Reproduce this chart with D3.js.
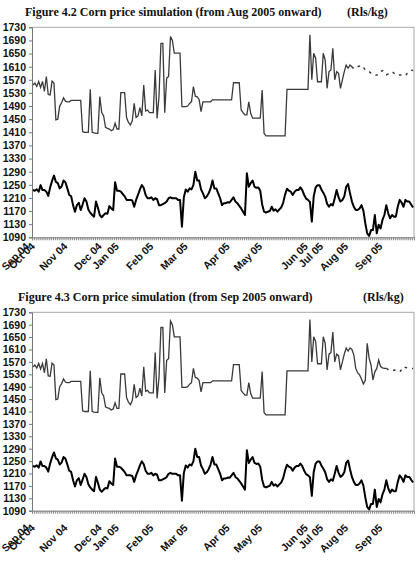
<!DOCTYPE html>
<html><head><meta charset="utf-8">
<script src="https://cdn.jsdelivr.net/npm/d3@7"></script>
<style>
html,body{margin:0;padding:0;background:#fff;}
svg{display:block;}
.ylab text{font-family:"Liberation Sans",Arial,sans-serif;font-weight:bold;font-size:10.5px;fill:#111;}
.mlab{font-family:"Liberation Sans",Arial,sans-serif;font-weight:bold;font-size:10.5px;fill:#111;}
.title{font-family:"Liberation Serif","Times New Roman",serif;font-weight:bold;font-size:12px;fill:#111;}
</style></head>
<body>
<svg id="c" width="419" height="562"></svg>
<script>
// ---- data ----
const monthLabels = ["Sep 04","Oct 04","Nov 04","Dec 04","Jan 05","Feb 05","Mar 05","Apr 05","May 05","Jun 05","Jul 05","Aug 05","Sep 05"];
const monthIndex  = [1, 4, 21, 39, 48, 66, 84, 106, 123, 147, 155, 168, 186];
const yTicks = [1090,1130,1170,1210,1250,1290,1330,1370,1410,1450,1490,1530,1570,1610,1650,1690,1730];
const nDays = 200;

// upper series (actual), index 0..185
const upperActual = [
1554,1560,1550,1565,1547,1565,1535,1580,1525,1524,
1566,1560,1448,1450,1490,1500,1515,1505,1503,1503,
1507,1507,1507,1507,1507,1507,1412,1410,1410,1410,
1541,1410,1408,1407,1407,1519,1470,1460,1425,1422,
1420,1415,1418,1438,1420,1420,1531,1531,1531,1455,
1440,1432,1445,1498,1455,1460,1485,1460,1554,1475,
1478,1470,1470,1470,1600,1452,1520,1681,1681,1470,
1575,1580,1702,1690,1651,1651,1651,1651,1488,1488,
1488,1490,1498,1503,1549,1520,1518,1510,1473,1503,
1503,1503,1503,1503,1509,1509,1509,1509,1509,1509,
1509,1509,1509,1509,1509,1561,1561,1561,1561,1478,
1470,1463,1463,1503,1468,1453,1453,1453,1453,1453,
1539,1407,1399,1399,1399,1399,1399,1399,1399,1399,
1399,1399,1399,1541,1541,1541,1541,1541,1541,1541,
1541,1541,1541,1541,1541,1707,1570,1651,1636,1564,
1564,1564,1651,1630,1544,1595,1600,1666,1570,1595,
1590,1544,1570,1595,1615,1605,1615,1610,1592,1549,
1535,1528,1515,1499,1510,1630,1582,1560,1512,1538,
1549,1576,1555,1551,1549,1549
];
// forecast from Aug 2005 (index 167..199)
const forecastAug = [
1610,1603,1605,1610,1612,1615,1608,1600,1600,1595,
1590,1585,1583,1585,1585,1595,1598,1590,1585,1588,
1592,1595,1590,1585,1583,1585,1585,1583,1582,1590,
1595,1600,1598
];
const forecastAugStart = 167;
// forecast from Sep 2005 (index 185..199)
const forecastSep = [1549,1545,1541,1542,1543,1544,1540,1538,1545,1555,1552,1551,1550,1549,1549];
const forecastSepStart = 185;

// lower series, index 0..199
const lowerSeries = [
1234,1232,1236,1229,1249,1234,1234,1229,1216,1242,
1262,1278,1259,1255,1239,1245,1263,1258,1239,1219,
1215,1188,1168,1188,1195,1173,1190,1209,1199,1175,
1165,1158,1153,1199,1180,1158,1151,1158,1163,1162,
1185,1178,1173,1258,1232,1232,1229,1222,1215,1204,
1204,1204,1202,1183,1204,1219,1236,1249,1240,1219,
1209,1209,1212,1204,1209,1206,1188,1188,1191,1194,
1199,1209,1212,1209,1209,1209,1204,1204,1122,1212,
1236,1229,1239,1236,1249,1290,1263,1263,1236,1224,
1209,1214,1224,1239,1263,1239,1239,1224,1209,1188,
1194,1194,1197,1196,1204,1212,1199,1194,1186,1178,
1168,1158,1285,1244,1255,1263,1244,1241,1242,1232,
1190,1168,1165,1168,1170,1183,1171,1175,1168,1175,
1181,1195,1220,1238,1232,1229,1219,1229,1234,1234,
1242,1234,1219,1208,1204,1198,1138,1215,1242,1249,
1249,1236,1226,1214,1192,1183,1191,1187,1209,1234,
1212,1199,1204,1214,1244,1252,1224,1199,1183,1173,
1173,1178,1188,1171,1133,1102,1094,1112,1112,1158,
1102,1128,1117,1143,1158,1188,1163,1148,1158,1153,
1153,1183,1204,1196,1183,1204,1199,1199,1190,1181
];

// ---- drawing ----
const svg = d3.select("#c");
const charts = [
  {title:"Figure 4.2 Corn price simulation (from Aug 2005 onward)", titleX:25, titleY:16, unitX:347,
   top:27.3, bottom:237.3, actualEnd:forecastAugStart, fc:forecastAug, fcStart:forecastAugStart, labY:247},
  {title:"Figure 4.3 Corn price simulation (from Sep 2005 onward)", titleX:18, titleY:301, unitX:363,
   top:312.3, bottom:510.7, actualEnd:forecastSepStart, fc:forecastSep, fcStart:forecastSepStart, labY:528.5}
];
const left = 32, right = 414;

charts.forEach(c => {
  const g = svg.append("g");
  const x = d3.scaleLinear().domain([0, nDays]).range([left, right]);
  const y = d3.scaleLinear().domain([1090, 1730]).range([c.bottom, c.top]);

  g.append("text").attr("class","title").attr("x",c.titleX).attr("y",c.titleY).text(c.title);
  g.append("text").attr("class","title").attr("x",c.unitX).attr("y",c.titleY).text("(Rls/kg)");

  // frame top & right
  g.append("path").attr("d",`M${left},${c.top}H${right}V${c.bottom}`)
    .attr("fill","none").attr("stroke","#a8a8a8").attr("stroke-width",1);

  // y axis
  const ya = g.append("g").attr("class","ylab").attr("transform",`translate(${left},0)`)
    .call(d3.axisLeft(y).tickValues(yTicks).tickSize(3).tickPadding(3).tickFormat(d3.format("d")));
  ya.select(".domain").attr("stroke","#777");
  ya.selectAll(".tick line").attr("stroke","#777");

  // x axis with category ticks
  const xa = g.append("g").attr("transform",`translate(0,${c.bottom})`)
    .call(d3.axisBottom(x).tickValues(d3.range(0, nDays+1)).tickSize(3).tickFormat(""));
  xa.select(".domain").attr("stroke","#777");
  xa.selectAll(".tick line").attr("stroke","#888");

  // month labels
  monthLabels.forEach((m,k) => {
    const px = x(monthIndex[k] + 0.5) - 5;
    g.append("text").attr("class","mlab")
      .attr("text-anchor","end")
      .attr("transform",`translate(${px},${c.labY}) rotate(-45)`)
      .text(m);
  });

  const line = d3.line().x(d => x(d.i + 0.5)).y(d => y(d.v));

  // lower series
  g.append("path").datum(lowerSeries.map((v,i)=>({i,v})))
    .attr("d",line).attr("fill","none").attr("stroke","#000").attr("stroke-width",2).attr("stroke-linejoin","round");

  // upper actual
  g.append("path").datum(upperActual.slice(0, c.actualEnd+1).map((v,i)=>({i,v})))
    .attr("d",line).attr("fill","none").attr("stroke","#3a3a3a").attr("stroke-width",1.3);

  // forecast
  g.append("path").datum(c.fc.map((v,k)=>({i:c.fcStart+k, v})))
    .attr("d",line).attr("fill","none").attr("stroke","#333").attr("stroke-width",1.5)
    .attr("stroke-dasharray","2.5,5");
});
</script>
</body></html>
